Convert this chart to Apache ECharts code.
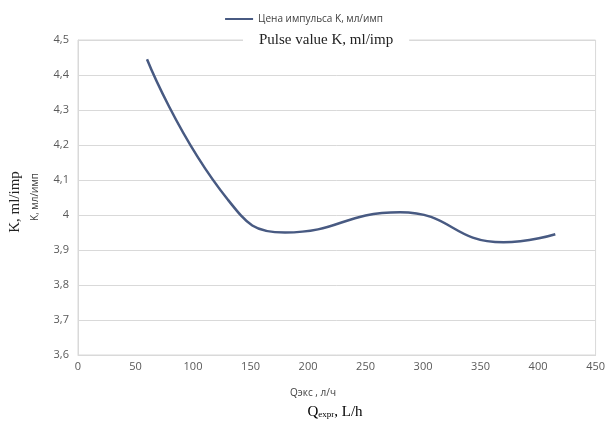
<!DOCTYPE html>
<html>
<head>
<meta charset="utf-8">
<script src="https://cdn.jsdelivr.net/npm/echarts@6/dist/echarts.min.js"></script>
<style>
  html, body { margin: 0; padding: 0; background: #fff; }
  #chart { width: 608px; height: 422px; }
</style>
</head>
<body>
<div id="chart"></div>
<script>
// flow rate, L/h
var flowRates = [60, 130, 180, 280, 370, 415];
// pulse value K, ml/imp
var pulseValues = [4.445, 4.045, 3.95, 4.008, 3.922, 3.945];
var seriesName = 'Цена импульса K, мл/имп';

var points = flowRates.map(function (x, i) { return [x, pulseValues[i]]; });

var chart = echarts.init(document.getElementById('chart'));
var labelFont = '"Open Sans", "Liberation Sans", sans-serif';
var serifFont = '"Liberation Serif", "DejaVu Serif", serif';

chart.setOption({
    animation: false,
    legend: {
        data: [seriesName],
        top: 9,
        left: 'center',
        itemWidth: 28,
        itemHeight: 2,
        icon: 'rect',
        textStyle: { fontFamily: labelFont, fontSize: 10, color: '#404040' }
    },
    title: {
        text: 'Pulse value K, ml/imp',
        left: 243,
        top: 31,
        backgroundColor: '#fff',
        padding: [2, 16, 2, 16],
        textStyle: { fontFamily: serifFont, fontSize: 15, fontWeight: 'normal', color: '#222' }
    },
    grid: {
        left: 78, right: 10, top: 40, bottom: 67,
        show: true, borderColor: '#d9d9d9', borderWidth: 1
    },
    xAxis: {
        type: 'value',
        min: 0, max: 450, interval: 50,
        axisLine: { show: true, lineStyle: { color: '#d9d9d9' } },
        axisTick: { show: false },
        splitLine: { show: false },
        axisLabel: { fontFamily: labelFont, fontSize: 11, color: '#595959', margin: 6 }
    },
    yAxis: {
        type: 'value',
        min: 3.6, max: 4.5, interval: 0.1,
        axisLine: { show: true, lineStyle: { color: '#d9d9d9' } },
        axisTick: { show: false },
        splitLine: { lineStyle: { color: '#d9d9d9' } },
        axisLabel: {
            fontFamily: labelFont, fontSize: 11, color: '#595959', margin: 9,
            formatter: function (v) { return (Math.round(v * 10) / 10).toString().replace('.', ','); }
        }
    },
    series: [{
        name: seriesName,
        type: 'line',
        smooth: 0.5,
        showSymbol: false,
        data: points,
        lineStyle: { color: '#485a82', width: 2.5 },
        itemStyle: { color: '#485a82' },
        z: 1
    }],
    graphic: [
        {
            type: 'text', x: 15, y: 202, rotation: Math.PI / 2,
            style: { text: 'K, ml/imp', font: '15px ' + serifFont, fill: '#222', align: 'center', verticalAlign: 'middle' }
        },
        {
            type: 'text', x: 35, y: 197, rotation: Math.PI / 2,
            style: { text: 'K, мл/имп', font: '10px ' + labelFont, fill: '#404040', align: 'center', verticalAlign: 'middle' }
        },
        {
            type: 'text', x: 313, y: 393,
            style: { text: 'Qэкс , л/ч', font: '10px ' + labelFont, fill: '#404040', align: 'center', verticalAlign: 'middle' }
        },
        {
            type: 'text', x: 335, y: 412,
            style: {
                text: '{q|Q}{s|expr}{q|, L/h}',
                align: 'center', verticalAlign: 'middle',
                rich: {
                    q: { fontFamily: serifFont, fontSize: 15, color: '#222' },
                    s: { fontFamily: serifFont, fontSize: 9, color: '#222', verticalAlign: 'bottom', padding: [6, 0, 0, 0] }
                }
            }
        }
    ]
});
</script>
</body>
</html>
